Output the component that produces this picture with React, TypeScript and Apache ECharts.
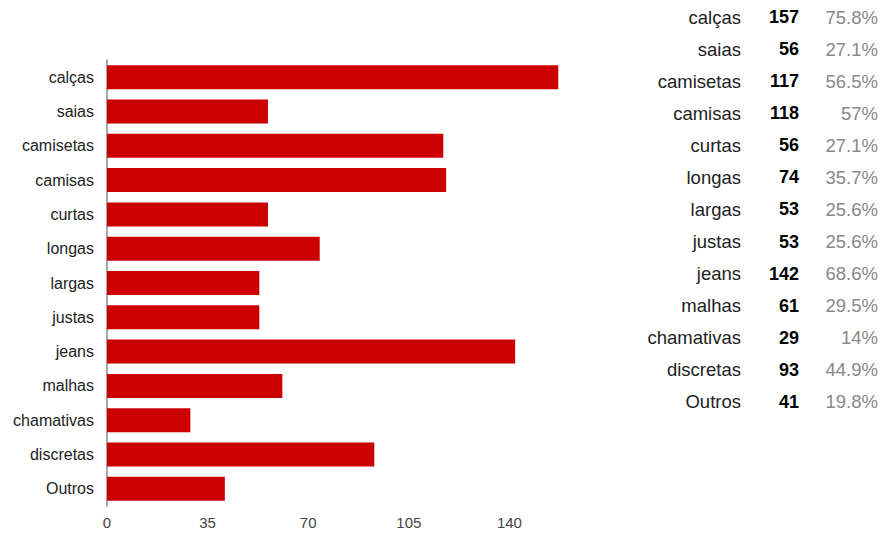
import React, { useEffect, useRef } from "react";
import * as echarts from "echarts";

const categories = ["calças", "saias", "camisetas", "camisas", "curtas", "longas", "largas", "justas", "jeans", "malhas", "chamativas", "discretas", "Outros"];
const counts = [157, 56, 117, 118, 56, 74, 53, 53, 142, 61, 29, 93, 41];
const percents = [75.8, 27.1, 56.5, 57, 27.1, 35.7, 25.6, 25.6, 68.6, 29.5, 14, 44.9, 19.8];
const tickLabels = ["0", "35", "70", "105", "140"];

const FONT = '"Liberation Sans", Arial, sans-serif';

export default function App() {
  const ref = useRef<HTMLDivElement>(null);
  useEffect(() => {
    if (!ref.current) return;
    const chart = echarts.init(ref.current, null, { renderer: "svg" });
    const rowTop = 17;
    const rowStep = 32.08;
    const graphics: any[] = [];
    categories.forEach((c, i) => {
      const y = rowTop + i * rowStep;
      graphics.push({
        type: "text", x: 741, y,
        style: { text: c, font: `18.5px ${FONT}`, fill: "#222", align: "right", verticalAlign: "middle" },
      });
      graphics.push({
        type: "text", x: 799, y,
        style: { text: String(counts[i]), font: `bold 18px ${FONT}`, fill: "#000", align: "right", verticalAlign: "middle" },
      });
      graphics.push({
        type: "text", x: 878, y,
        style: { text: String(percents[i]) + "%", font: `18.5px ${FONT}`, fill: "#888", align: "right", verticalAlign: "middle" },
      });
    });
    chart.setOption({
      animation: false,
      backgroundColor: "#ffffff",
      grid: { left: 107, top: 60, width: 503, height: 446 },
      xAxis: {
        type: "value",
        min: 0,
        max: 175,
        interval: 35,
        axisLine: { show: false },
        axisTick: { show: false },
        splitLine: { show: false },
        axisLabel: {
          fontFamily: FONT,
          fontSize: 15,
          color: "#444",
          margin: 9,
          formatter: (v: number) => (tickLabels.includes(String(v)) ? String(v) : ""),
        },
      },
      yAxis: {
        type: "category",
        data: categories,
        inverse: true,
        axisLine: { show: true, lineStyle: { color: "#888", width: 1.5 } },
        axisTick: { show: false },
        axisLabel: { fontFamily: FONT, fontSize: 16, color: "#222", margin: 13 },
      },
      series: [
        {
          type: "bar",
          data: counts,
          barWidth: 24,
          itemStyle: { color: "#cc0000" },
        },
      ],
      graphic: graphics,
    });
    return () => chart.dispose();
  }, []);
  return <div ref={ref} style={{ position: "absolute", left: 0, top: 0, width: 884, height: 537 }} />;
}
